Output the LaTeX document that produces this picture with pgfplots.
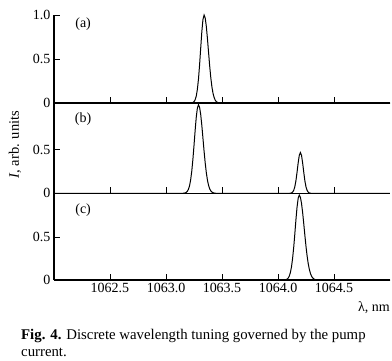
\documentclass[border=0pt]{standalone}
\usepackage{fontspec}
\setmainfont{Liberation Serif}
\usepackage{pgfplots}
\pgfplotsset{compat=1.18}
\begin{document}
\begin{tikzpicture}
\pgfplotsset{
  panel/.style={
    scale only axis, width=336pt,
    xmin=1062.0, xmax=1065.0, ymin=0,
    axis x line*=bottom, axis y line*=left,
    axis line style={line width=1.2pt},
    tick align=inside, major tick length=6.5pt,
    tick style={line width=0.8pt, black},
    xtick={1062.5,1063.0,1063.5,1064.0,1064.5},
    xticklabels={},
    ticklabel style={font=\fontsize{14}{16}\selectfont},
    clip=false,
  },
  curve/.style={black, line width=1pt, no marks},
}
\path[use as bounding box] (0pt,-360pt) rectangle (392pt,0pt);
% panel (a)
\begin{axis}[panel, at={(54pt,-103pt)}, anchor=south west, height=88pt, ymax=1.0,
  ytick={0,0.5,1.0}, yticklabels={0,0.5,1.0}]
\addplot[curve] coordinates {
(1062.0,0) (1063.22,0) (1063.23,0.0019) (1063.24,0.0055) (1063.25,0.0148) (1063.26,0.036)
(1063.27,0.078) (1063.28,0.154) (1063.29,0.272) (1063.30,0.435) (1063.31,0.626)
(1063.32,0.812) (1063.33,0.949) (1063.34,1.0) (1063.35,0.966) (1063.36,0.871)
(1063.37,0.732) (1063.38,0.575) (1063.39,0.421) (1063.40,0.287) (1063.41,0.183)
(1063.42,0.109) (1063.43,0.061) (1063.44,0.031) (1063.45,0.015) (1063.46,0.007)
(1063.47,0.003) (1063.48,0.001) (1063.49,0) (1065.0,0)};
\node[font=\fontsize{14}{16}\selectfont] at (axis cs:1062.26,0.90) {(a)};
\end{axis}
% panel (b)
\begin{axis}[panel, at={(54pt,-193.3pt)}, anchor=south west, height=90.3pt, ymax=1.04,
  ytick={0,0.5}, yticklabels={0,0.5}]
\addplot[curve] coordinates {
(1062.0,0) (1063.15,0) (1063.16,0.002) (1063.17,0.004) (1063.18,0.010) (1063.19,0.022)
(1063.20,0.045) (1063.21,0.086) (1063.22,0.154) (1063.23,0.254) (1063.24,0.389)
(1063.25,0.550) (1063.26,0.721) (1063.27,0.874) (1063.28,0.981) (1063.29,1.02)
(1063.30,0.990) (1063.31,0.906) (1063.32,0.780) (1063.33,0.633) (1063.34,0.485)
(1063.35,0.350) (1063.36,0.238) (1063.37,0.152) (1063.38,0.092) (1063.39,0.052)
(1063.40,0.028) (1063.41,0.014) (1063.42,0.007) (1063.43,0.003) (1063.44,0.001)
(1063.45,0) (1064.10,0) (1064.11,0.001) (1064.12,0.004) (1064.13,0.013)
(1064.14,0.033) (1064.15,0.074) (1064.16,0.144) (1064.17,0.242) (1064.18,0.350)
(1064.19,0.437) (1064.20,0.47) (1064.21,0.437) (1064.22,0.350) (1064.23,0.242)
(1064.24,0.144) (1064.25,0.074) (1064.26,0.033) (1064.27,0.013) (1064.28,0.004)
(1064.29,0.001) (1064.30,0) (1065.0,0)};
\node[font=\fontsize{14}{16}\selectfont] at (axis cs:1062.26,0.85) {(b)};
\node[font=\fontsize{14.5}{16}\selectfont, rotate=90, anchor=center] at ([xshift=-39pt]rel axis cs:0,0.54) {\textit{I}, arb. units};
\end{axis}
% panel (c)
\begin{axis}[panel, at={(54pt,-280pt)}, anchor=south west, height=86.7pt, ymax=1.01,
  ytick={0,0.5}, yticklabels={0,0.5},
  xticklabels={1062.5,1063.0,1063.5,1064.0,1064.5}]
\addplot[curve] coordinates {
(1062.0,0) (1064.05,0) (1064.06,0.001) (1064.07,0.004) (1064.08,0.009) (1064.09,0.021)
(1064.10,0.043) (1064.11,0.084) (1064.12,0.149) (1064.13,0.247) (1064.14,0.377)
(1064.15,0.534) (1064.16,0.700) (1064.17,0.848) (1064.18,0.952) (1064.19,0.99)
(1064.20,0.965) (1064.21,0.893) (1064.22,0.785) (1064.23,0.655) (1064.24,0.520)
(1064.25,0.391) (1064.26,0.279) (1064.27,0.190) (1064.28,0.123) (1064.29,0.075)
(1064.30,0.043) (1064.31,0.024) (1064.32,0.013) (1064.33,0.006) (1064.34,0.003)
(1064.35,0.001) (1064.36,0) (1065.0,0)};
\node[font=\fontsize{14}{16}\selectfont] at (axis cs:1062.26,0.81) {(c)};
\node[font=\fontsize{14}{16}\selectfont, anchor=base east, inner sep=0pt] at ([yshift=-31pt]rel axis cs:1,0) {λ, nm};
\end{axis}
\node[anchor=base west, inner sep=0pt, font=\fontsize{14.8}{16}\selectfont] at (21pt,-339.5pt) {\textbf{Fig. 4.} Discrete wavelength tuning governed by the pump};
\node[anchor=base west, inner sep=0pt, font=\fontsize{14.8}{16}\selectfont] at (21pt,-356pt) {current.};
\end{tikzpicture}
\end{document}
